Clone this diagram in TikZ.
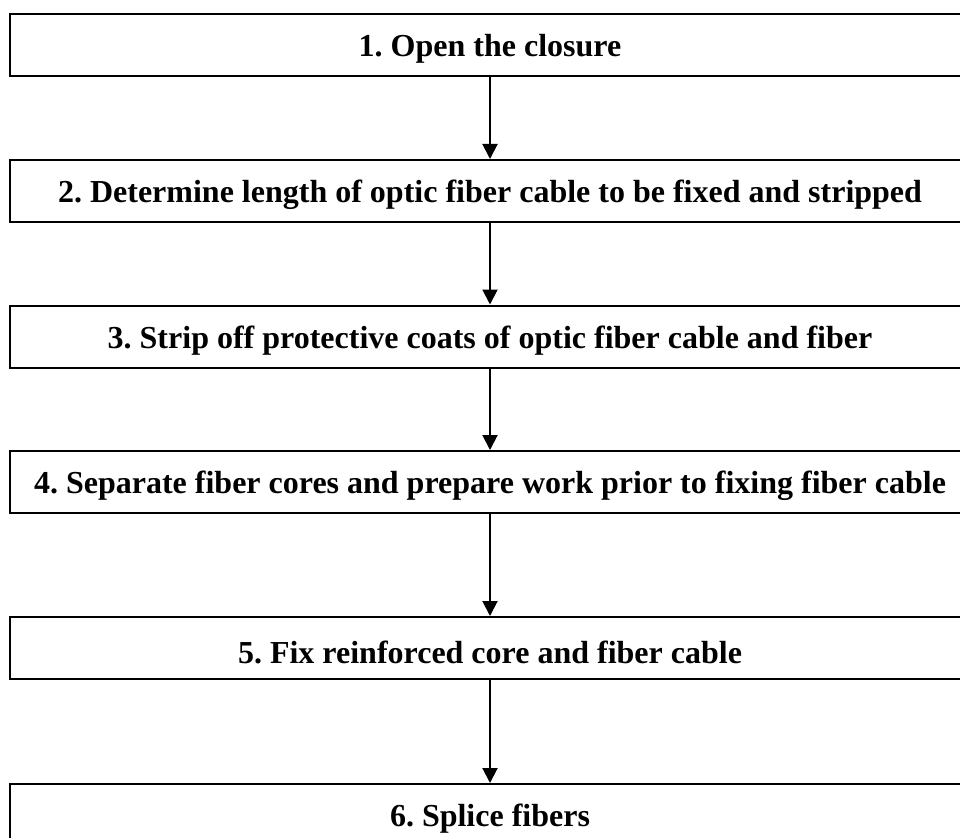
\documentclass[tikz,border=0pt]{standalone}
\usepackage{fontspec}
\setmainfont{Liberation Serif}
\usetikzlibrary{arrows.meta}
\newcommand{\steptext}[1]{\raisebox{-4pt}[\height][\depth]{#1}}
\begin{document}
\begin{tikzpicture}[x=1pt,y=-1pt,
  stepbox/.style={draw=black,line width=2pt,minimum width=960pt,minimum height=62pt,
    inner sep=0pt,font=\fontsize{32}{36}\selectfont\bfseries\frenchspacing,text=black},
  flow/.style={line width=2pt,-{Triangle[width=15pt,length=15pt]}}]
\useasboundingbox (0,0) rectangle (960,837);
\clip (0,0) rectangle (960,837);
\node[stepbox] (s1) at (490,45) {\steptext{1. Open the closure}};
\node[stepbox] (s2) at (490,191) {\steptext{2. Determine length of optic fiber cable to be fixed and stripped}};
\node[stepbox] (s3) at (490,336.5) {\steptext{3. Strip off protective coats of optic fiber cable and fiber}};
\node[stepbox] (s4) at (490,482) {\steptext{4. Separate fiber cores and prepare work prior to fixing fiber cable}};
\node[stepbox] (s5) at (490,648) {\steptext{5. Fix reinforced core and fiber cable}};
\node[stepbox] (s6) at (490,815) {\steptext{6. Splice fibers}};
\draw[flow] (s1) -- (s2);
\draw[flow] (s2) -- (s3);
\draw[flow] (s3) -- (s4);
\draw[flow] (s4) -- (s5);
\draw[flow] (s5) -- (s6);
\end{tikzpicture}
\end{document}
